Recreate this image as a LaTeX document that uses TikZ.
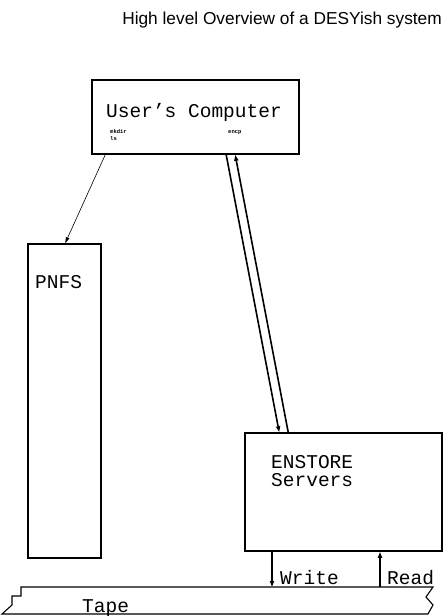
\documentclass[tikz,border=0pt]{standalone}
\usepackage{fontspec}
\setmainfont{Liberation Mono}
\newfontfamily\titlefont{Liberation Sans}
\usetikzlibrary{arrows.meta,calc}
\tikzset{
  box/.style={draw,line width=1.6pt,rectangle,inner sep=0pt},
  lbl/.style={inner sep=0pt,anchor=base west,font=\fontsize{19.5}{20}\selectfont},
  tiny/.style={inner sep=0pt,anchor=base west,font=\fontsize{5.5}{6}\selectfont\bfseries},
  thick arrow/.style={line width=1.6pt,-{Triangle[length=6pt,width=4pt]}},
  thin arrow/.style={line width=0.6pt,-{Triangle[length=6pt,width=3.5pt]}},
  tapeline/.style={line width=1.1pt}
}
\begin{document}
\begin{tikzpicture}[x=1pt,y=-1pt]
\useasboundingbox (0,0) rectangle (446,616);
% title
\node[inner sep=0pt,anchor=base east,font=\titlefont\fontsize{17.3}{19}\selectfont] (title) at (442,24) {High level Overview of a DESYish system};
% boxes
\node[box,minimum width=207pt,minimum height=74pt] (user) at (195.5,117) {};
\node[box,minimum width=73pt,minimum height=314pt] (pnfs) at (64.5,401) {};
\node[box,minimum width=197pt,minimum height=118pt] (ens) at (343.5,492) {};
% labels
\node[lbl] (usert) at (106,117) {User's Computer};
\node[tiny] (mkdir) at (110,133) {mkdir};
\node[tiny] (ls) at (110,140) {ls};
\node[tiny] (encp) at (228,133) {encp};
\node[lbl] (pnfst) at (35,288) {PNFS};
\node[lbl] (enst) at (271,468) {ENSTORE};
\node[lbl] (servt) at (271,486) {Servers};
% tape
\draw[tapeline] (21,587) -- (433,587) -- (426,597) -- (433,605) -- (428,614) -- (2,614) -- (12,605) -- (12,596) -- (21,596) -- cycle;
\node[lbl] (tapet) at (82,612) {Tape};
\coordinate (wtop) at (272,587);
\coordinate (rtop) at (380,587);
\node[lbl] (writet) at (280,584) {Write};
\node[lbl] (readt) at (387,584) {Read};
% connectors
\draw[thin arrow] ($(user.south west)+(14,0)$) -- ($(pnfs.north west)+(38,0)$);
\draw[thick arrow] ($(user.south west)+(135,0)$) -- ($(ens.north west)+(35,0)$);
\draw[thick arrow] ($(ens.north west)+(44,0)$) -- ($(user.south west)+(144,0)$);
\draw[thick arrow] (ens.south -| wtop) -- (wtop);
\draw[thick arrow] (rtop) -- (ens.south -| rtop);
\end{tikzpicture}
\end{document}
